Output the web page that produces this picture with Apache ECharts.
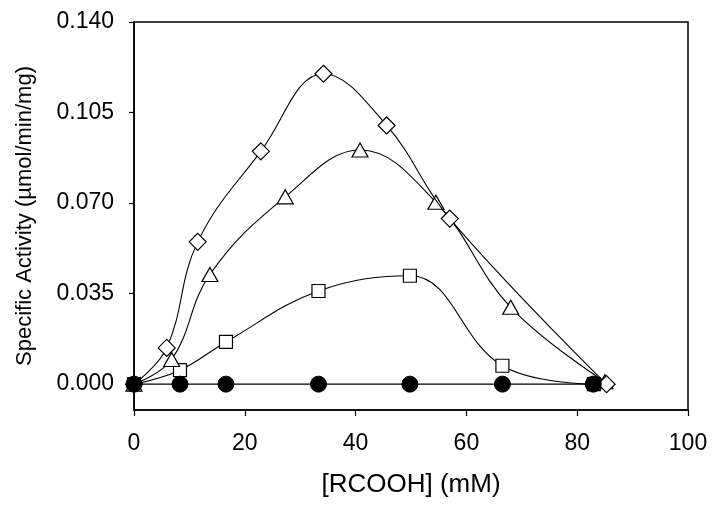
<!DOCTYPE html>
<html>
<head>
<meta charset="utf-8">
<script src="https://cdn.jsdelivr.net/npm/echarts@6/dist/echarts.min.js"></script>
<style>
html,body{margin:0;padding:0;background:#fff;}
#chart{width:713px;height:506px;}
</style>
</head>
<body>
<div id="chart"></div>
<script>
// Data
const concDiamond = [0, 5.9, 11.5, 22.9, 34.2, 45.6, 57.0, 85.3];
const actDiamond  = [0, 0.014, 0.055, 0.090, 0.120, 0.100, 0.064, 0.000];
const concTriangle = [0, 6.8, 13.7, 27.3, 40.8, 54.5, 68.0, 85.0];
const actTriangle  = [0, 0.0095, 0.0424, 0.0724, 0.0905, 0.0703, 0.0297, 0.0009];
const concSquare = [0, 8.3, 16.6, 33.3, 49.8, 66.5, 83.0];
const actSquare  = [0, 0.0054, 0.0163, 0.036, 0.0419, 0.0071, 0.000];
const concCircle = [0, 8.3, 16.6, 33.3, 49.8, 66.5, 82.9];
const actCircle  = [0, 0, 0, 0, 0, 0, 0];
const yTicks = [0, 0.035, 0.070, 0.105, 0.140];
const xTicks = [0, 20, 40, 60, 80, 100];

function pairs(xs, ys) { return xs.map((x, i) => [x, ys[i]]); }

const FONT = '"Liberation Sans", Arial, sans-serif';
const chart = echarts.init(document.getElementById('chart'), null, {renderer: 'canvas'});

function openSeries(name, xs, ys, symbol, size, z) {
  return {
    name: name, type: 'line', data: pairs(xs, ys), smooth: 0.4,
    symbol: symbol, symbolSize: size, showAllSymbol: true,
    lineStyle: {color: '#000', width: 1.1},
    itemStyle: {color: '#fff', borderColor: '#000', borderWidth: 1.2},
    z: z
  };
}

chart.setOption({
  animation: false,
  backgroundColor: '#fff',
  grid: {left: 134, right: 25, top: 22, bottom: 96, show: true, borderColor: '#000', borderWidth: 1.5, backgroundColor: 'transparent'},
  xAxis: {
    type: 'value', min: 0, max: 100, interval: 20,
    name: '[RCOOH] (mM)', nameLocation: 'middle', nameGap: 62,
    nameTextStyle: {fontFamily: FONT, fontSize: 26, color: '#000'},
    axisLine: {show: true, onZero: false, lineStyle: {color: '#000', width: 1.5}},
    axisTick: {show: true, length: 6, customValues: xTicks, lineStyle: {color: '#000', width: 1.2}},
    axisLabel: {fontFamily: FONT, fontSize: 23, color: '#000', margin: 22, customValues: xTicks},
    splitLine: {show: false}
  },
  yAxis: {
    type: 'value', min: -0.01, max: 0.14,
    name: 'Specific Activity (\u00b5mol/min/mg)', nameLocation: 'middle', nameGap: 98, nameRotate: 90,
    nameTextStyle: {fontFamily: FONT, fontSize: 22, color: '#000'},
    axisLine: {show: true, onZero: false, lineStyle: {color: '#000', width: 1.5}},
    axisTick: {show: true, length: 5, customValues: yTicks, lineStyle: {color: '#000', width: 1.2}},
    axisLabel: {fontFamily: FONT, fontSize: 23, color: '#000', margin: 20, customValues: yTicks,
      formatter: v => v.toFixed(3)},
    splitLine: {show: false}
  },
  series: [
    openSeries('square', concSquare, actSquare, 'rect', 13, 3),
    openSeries('triangle', concTriangle, actTriangle, 'triangle', [16, 14], 4),
    openSeries('diamond', concDiamond, actDiamond, 'diamond', 17, 5),
    {
      name: 'control', type: 'line', data: pairs(concCircle, actCircle),
      symbol: 'circle', symbolSize: 16, showAllSymbol: true,
      lineStyle: {color: '#000', width: 1.1},
      itemStyle: {color: '#000', borderColor: '#000'},
      z: 6
    }
  ]
});
</script>
</body>
</html>
